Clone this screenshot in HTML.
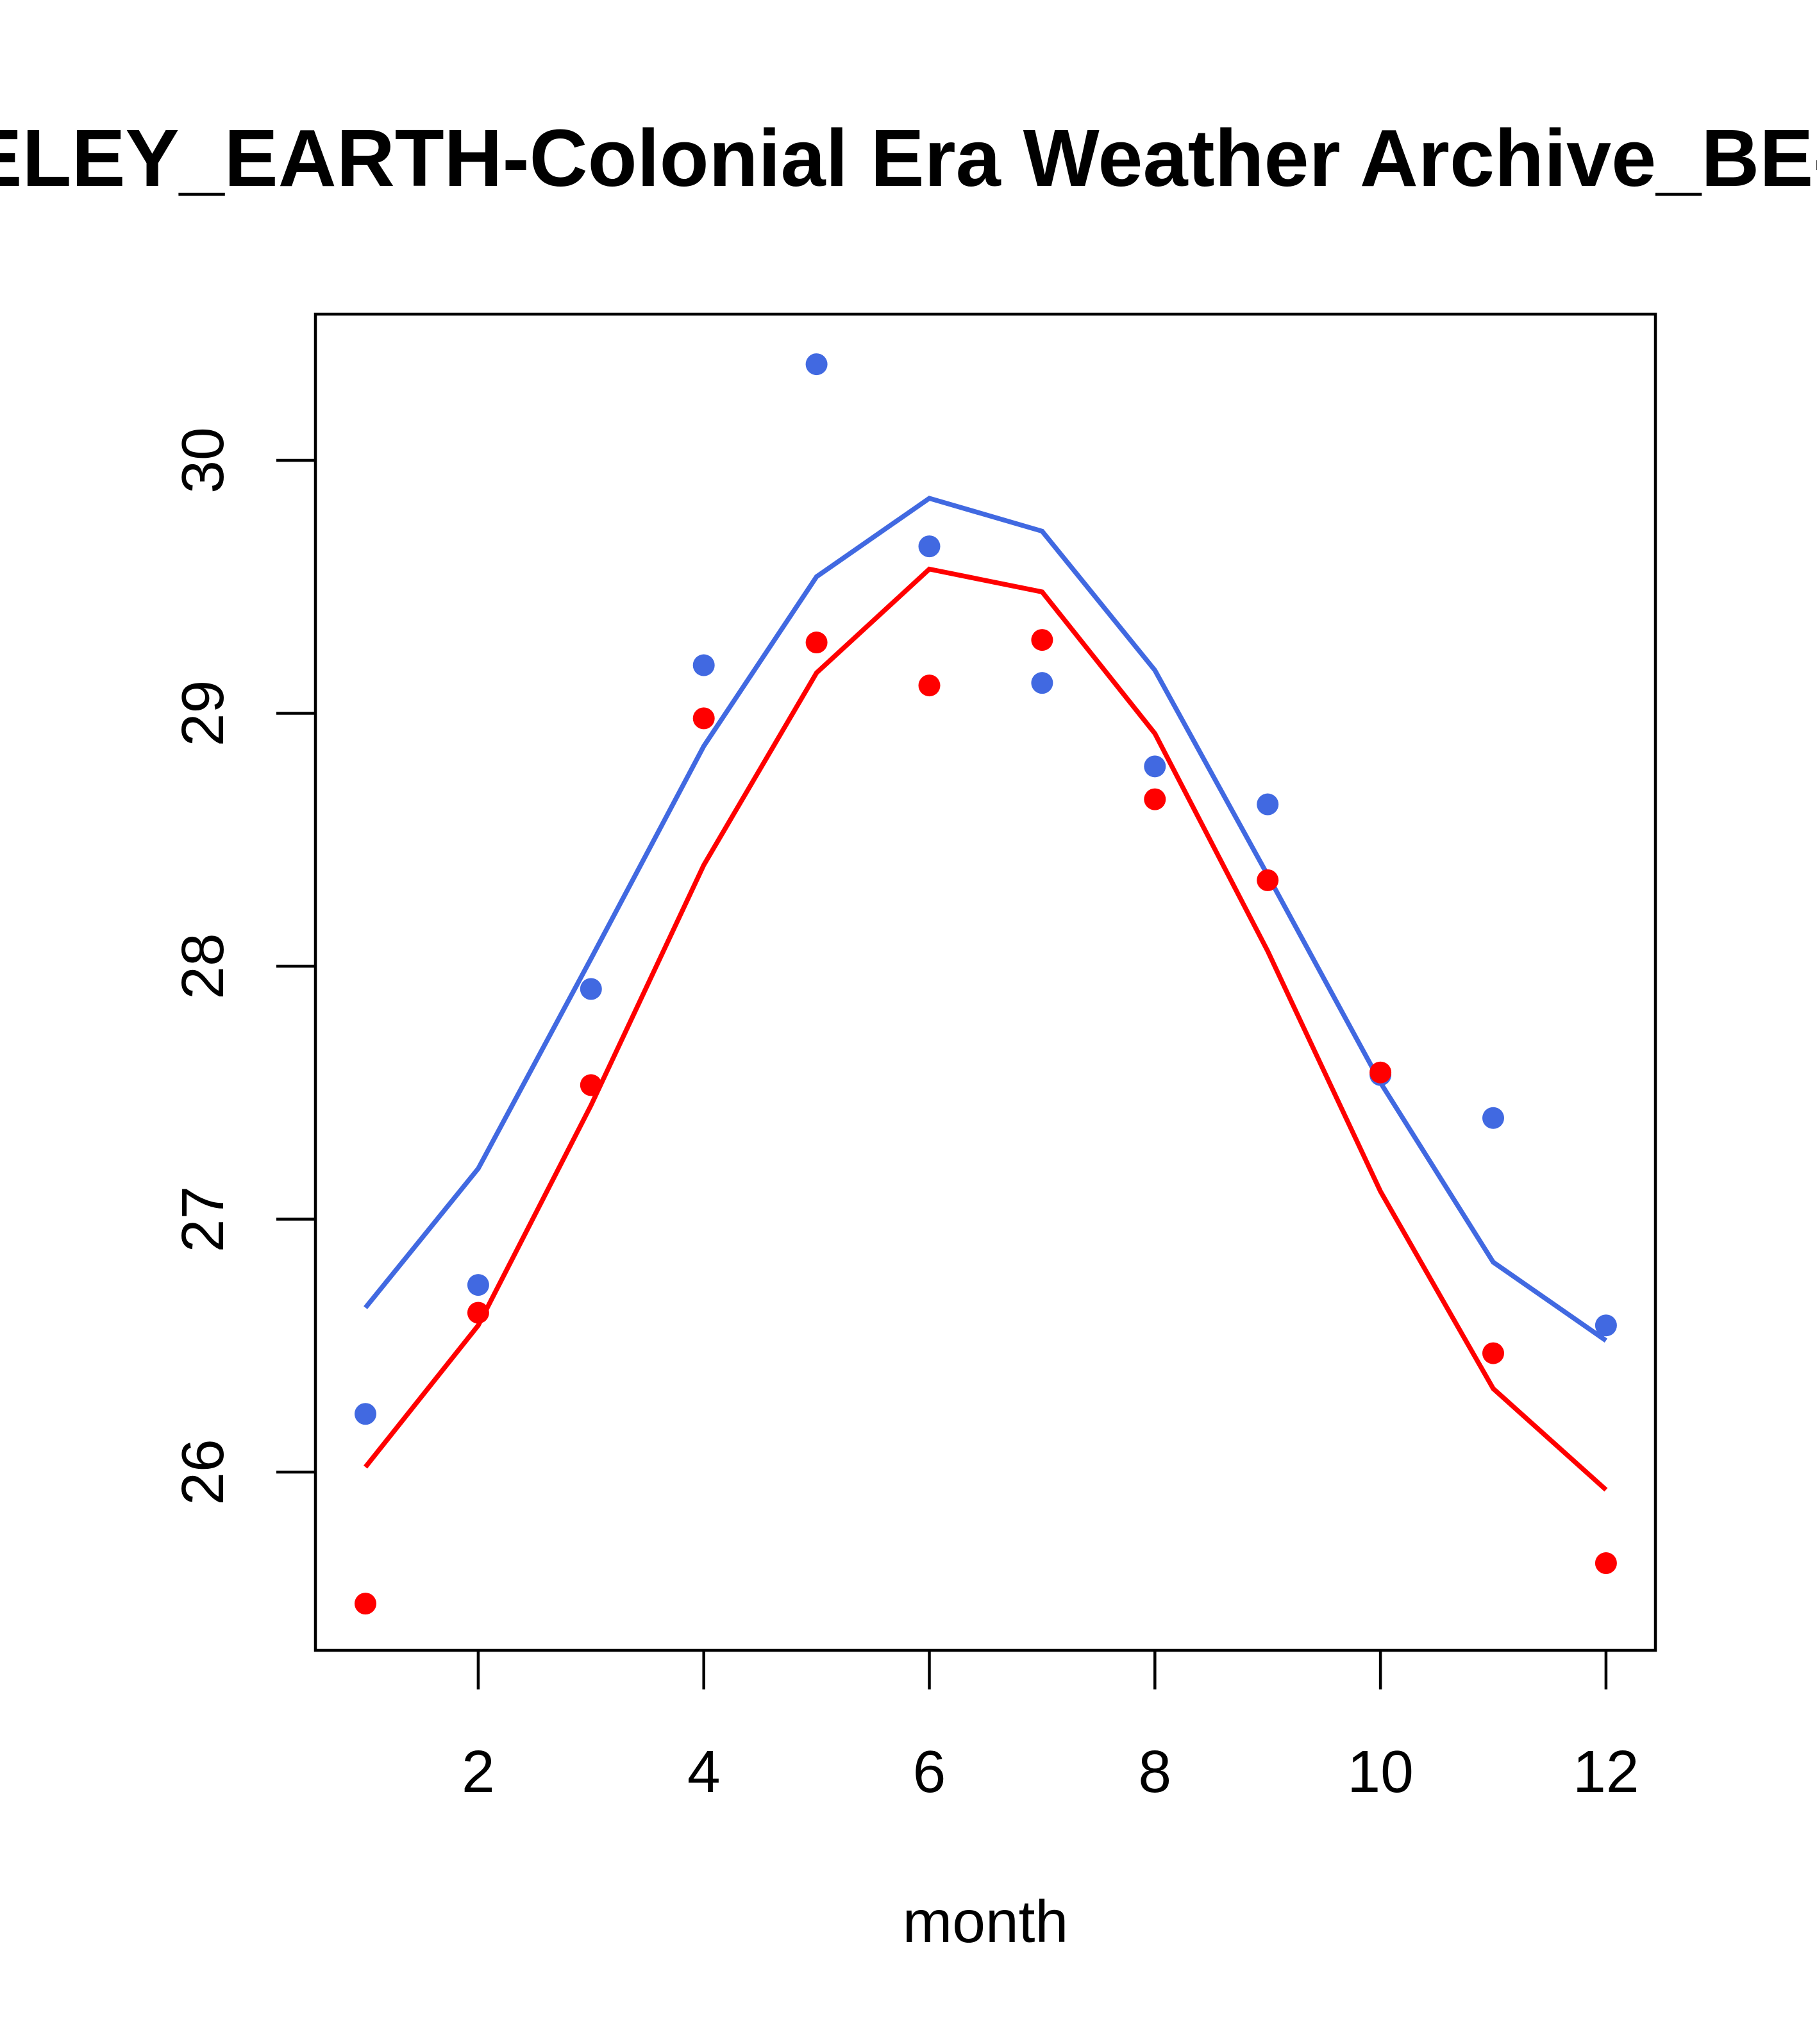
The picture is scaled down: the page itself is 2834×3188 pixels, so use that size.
<!DOCTYPE html>
<html><head><meta charset="utf-8"><style>html,body{margin:0;padding:0;background:#fff}svg{display:block}</style></head>
<body>
<svg id="chart" width="2834" height="3188" viewBox="0 0 2834 3188" xmlns="http://www.w3.org/2000/svg" font-family="'Liberation Sans', Arial, sans-serif">
<rect width="2834" height="3188" fill="#fff"/>
<text x="1372" y="290" text-anchor="middle" font-size="126" font-weight="bold">BERKELEY_EARTH-Colonial Era Weather Archive_BE-8700</text>
<rect x="492" y="490" width="2090" height="2084" fill="none" stroke="#000" stroke-width="4.5"/>
<text x="1537" y="3029" text-anchor="middle" font-size="93">month</text>
<g id="axes"></g>
<g id="marks"></g>
</svg>
<script>
const months=[1,2,3,4,5,6,7,8,9,10,11,12];
const bluePoints=[26.23,26.74,27.91,29.19,30.38,29.66,29.12,28.79,28.64,27.57,27.40,26.58];
const redPoints=[25.48,26.63,27.53,28.98,29.28,29.11,29.29,28.66,28.34,27.58,26.47,25.64];
const blueLine=[26.65,27.20,28.03,28.87,29.54,29.85,29.72,29.17,28.36,27.54,26.83,26.52];
const redLine=[26.02,26.58,27.45,28.40,29.16,29.57,29.48,28.92,28.06,27.11,26.33,25.93];
const xTicks=[2,4,6,8,10,12];
const yTicks=[26,27,28,29,30];

const NS="http://www.w3.org/2000/svg";
function xs(m){return 570+(m-1)*175.9;}
function ys(v){return 718+(30-v)*394.5;}
const axes=document.getElementById('axes'), marks=document.getElementById('marks');
function mk(tag,attrs,parent){const e=document.createElementNS(NS,tag);for(const k in attrs)e.setAttribute(k,attrs[k]);parent.appendChild(e);return e;}

xTicks.forEach(t=>{
  const l=mk('line',{x1:xs(t),x2:xs(t),y1:2574,y2:2635,stroke:'#000','stroke-width':4.5},axes);
  
  
  const tx=mk('text',{x:xs(t),y:2795,'text-anchor':'middle','font-size':93},axes);
  tx.textContent=t;
  
  
});
yTicks.forEach(t=>{
  const y=ys(t);
  const l=mk('line',{x1:431,x2:492,y1:y,y2:y,stroke:'#000','stroke-width':4.5},axes);
  
  
  const tx=mk('text',{x:348,y:y,'text-anchor':'middle','font-size':93,transform:`rotate(-90 348 ${y})`},axes);
  tx.textContent=t;
  
  
});
function line(vals,color,name){
  const p=mk('polyline',{points:vals.map((v,i)=>xs(months[i])+','+ys(v)).join(' '),fill:'none',stroke:color,'stroke-width':7.5},marks);
  
  
}
function pts(vals,color,name){
  vals.forEach((v,i)=>{
    const c=mk('circle',{cx:xs(months[i]),cy:ys(v),r:17,fill:color},marks);
    
    
  });
}
line(blueLine,'#4169E1','blue-trend-line');
line(redLine,'#FF0000','red-trend-line');
pts(bluePoints,'#4169E1','blue-point');
pts(redPoints,'#FF0000','red-point');
</script>
</body></html>
